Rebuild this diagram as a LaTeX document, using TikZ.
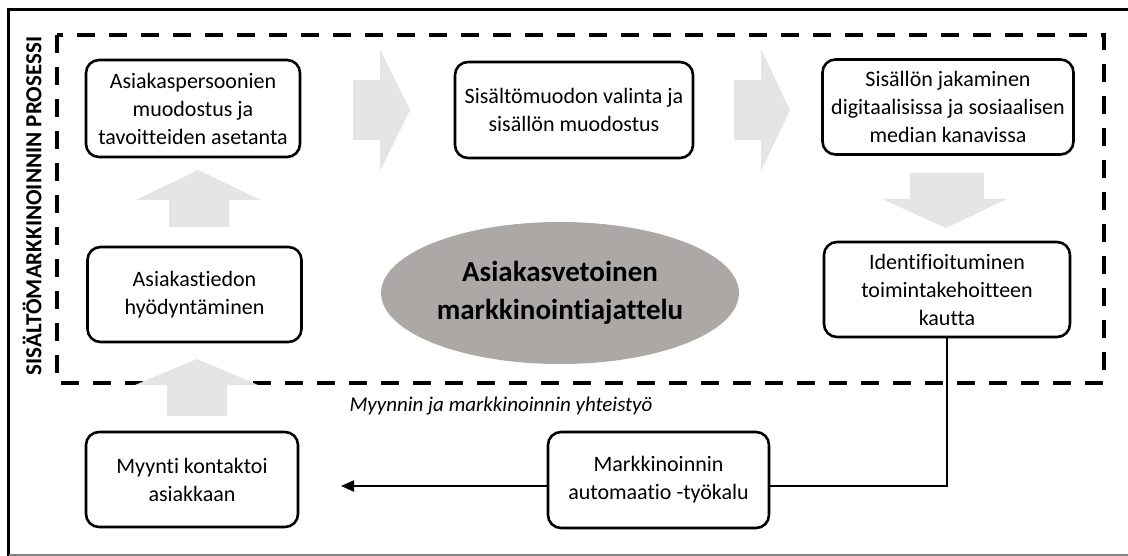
\documentclass[tikz,border=0pt]{standalone}
\usepackage{fontspec}
\setmainfont{Carlito}[Ligatures={NoCommon}]
\usetikzlibrary{arrows.meta,shapes.geometric}
\definecolor{arrowgray}{RGB}{229,229,229}
\definecolor{ellgray}{RGB}{171,168,166}
\definecolor{framegray}{RGB}{130,130,130}
\tikzset{
  procbox/.style={draw=black, line width=2.6pt, rounded corners=13pt, fill=white,
    align=center, inner sep=3pt, font=\fontsize{22}{28}\selectfont},
  blockarrow/.style={fill=arrowgray, draw=none},
  linkline/.style={line width=2pt, draw=black},
}
\begin{document}
\begin{tikzpicture}[x=1pt,y=-1pt]
\useasboundingbox (0,0) rectangle (1128,556);
\fill[white] (0,0) rectangle (1128,556);
% outer frame
\draw[line width=3.5pt] (1128,9.5) -- (8.5,9.5) -- (8.5,556);
\draw[framegray, line width=2pt] (8.5,555) -- (1128,555);
% dashed process frame
\draw[line width=4pt, dash pattern=on 18pt off 14pt] (57,35) rectangle (1104,383);
% rotated label
\node[rotate=90, font=\bfseries\fontsize{23}{28}\selectfont] (lbl) at (32,206) {SISÄLTÖMARKKINOINNIN PROSESSI};
% gray block arrows
\path[blockarrow] (353,80) -- (380,80) -- (380,49) -- (410,110) -- (380,171) -- (380,140) -- (353,140) -- cycle;
\path[blockarrow] (734,80) -- (761,80) -- (761,49) -- (790,110) -- (761,171) -- (761,140) -- (734,140) -- cycle;
\path[blockarrow] (910,173) -- (984,173) -- (984,199) -- (1007,199) -- (946,228) -- (882,199) -- (910,199) -- cycle;
\path[blockarrow] (169,227) -- (229,227) -- (229,200) -- (261,200) -- (198,170) -- (136,200) -- (169,200) -- cycle;
\path[blockarrow] (167,416) -- (227,416) -- (227,385) -- (258,385) -- (197,359) -- (135,385) -- (167,385) -- cycle;
% ellipse
\node[ellipse, fill=ellgray, minimum width=310pt, minimum height=142pt, align=center,
  font=\bfseries\fontsize{29}{38}\selectfont] (core) at (560,293) {Asiakasvetoinen\\markkinointiajattelu};
% boxes
\node[procbox, minimum width=214pt, minimum height=97pt] (b1) at (193,108.5) {Asiakaspersoonien\\muodostus ja\\tavoitteiden asetanta};
\node[procbox, minimum width=238pt, minimum height=96pt] (b2) at (574,110) {Sisältömuodon valinta ja\\sisällön muodostus};
\node[procbox, minimum width=251pt, minimum height=95pt] (b3) at (948,107) {Sisällön jakaminen\\digitaalisissa ja sosiaalisen\\median kanavissa};
\node[procbox, minimum width=246pt, minimum height=95pt] (b4) at (947,289.5) {Identifioituminen\\toimintakehoitteen\\kautta};
\node[procbox, minimum width=214pt, minimum height=95pt] (b5) at (194.5,294.5) {Asiakastiedon\\hyödyntäminen};
\node[procbox, minimum width=212pt, minimum height=95pt] (b6) at (192,479.5) {Myynti kontaktoi\\asiakkaan};
\node[procbox, minimum width=221pt, minimum height=96pt] (b7) at (658.5,480) {Markkinoinnin\\automaatio -työkalu};
% italic caption
\node[font=\itshape\fontsize{21}{26}\selectfont] (cap) at (501,406) {Myynnin ja markkinoinnin yhteistyö};
% connectors
\coordinate (tip) at (341,486);
\draw[linkline] (b4.south) |- ([yshift=-6pt]b7.east);
\draw[linkline, -{Triangle[length=13pt,width=11pt]}] ([yshift=-6pt]b7.west) -- (tip);
\end{tikzpicture}
\end{document}
